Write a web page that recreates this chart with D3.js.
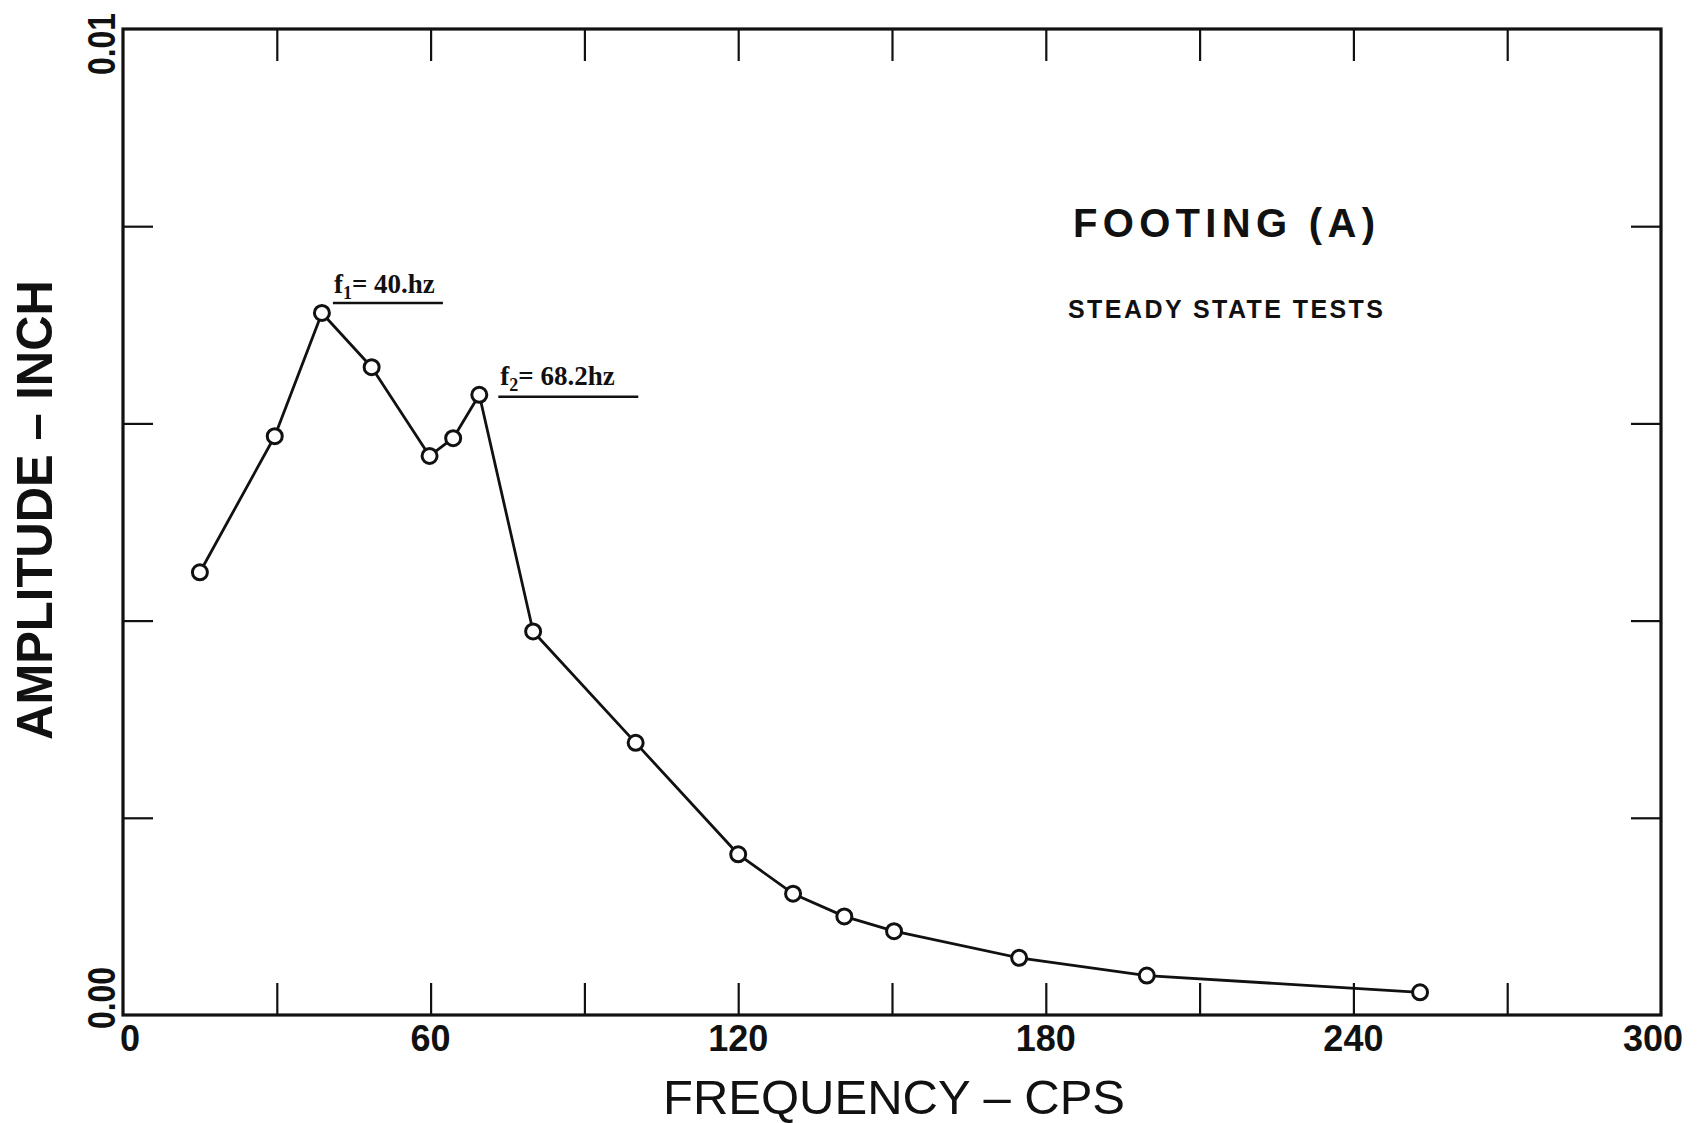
<!DOCTYPE html>
<html lang="en">
<head>
<meta charset="utf-8">
<title>Footing (A)</title>
<script src="https://cdn.jsdelivr.net/npm/d3@7"></script>
<style>
  body { margin: 0; background: #fff; }
  svg { display: block; }
  text { fill: #111; }
</style>
</head>
<body>
<script>

// data
var freq = [15, 29.6, 38.8, 48.5, 59.8, 64.4, 69.5, 80, 100, 120, 130.7, 140.7, 150.4, 174.8, 199.7, 253];
var amp = [0.00449, 0.00587, 0.00712, 0.00657, 0.00567, 0.00585, 0.00629, 0.00389, 0.00276, 0.00163,
           0.00123, 0.00100, 0.00085, 0.00058, 0.00040, 0.00023];
var xTicks = [30, 60, 90, 120, 150, 180, 210, 240, 270];
var xLabels = [0, 60, 120, 180, 240, 300];
var yTicks = [0.002, 0.004, 0.006, 0.008];
var yLabels = ["0.00", "0.01"];
var peakNames = ["1", "2"];
var peakHz = ["40.", "68.2"];
var peakIndex = [2, 6];

var w = 1700, h = 1123;
var pL = 123, pR = 1661, pT = 29, pB = 1015;

var svg = d3.select("body").append("svg")
    .attr("width", w)
    .attr("height", h);

var x = d3.scaleLinear().domain([0, 300]).range([pL, pR]);
var y = d3.scaleLinear().domain([0, 0.01]).range([pB, pT]);

// frame
svg.append("rect")
    .attr("x", pL).attr("y", pT)
    .attr("width", pR - pL).attr("height", pB - pT)
    .attr("fill", "none").attr("stroke", "#111").attr("stroke-width", 3.2);

// inward ticks on all four sides
var tickStyle = function(g) {
  g.select(".domain").remove();
  g.selectAll(".tick line").attr("stroke", "#111").attr("stroke-width", 2.2);
};

svg.append("g")
    .attr("transform", "translate(0," + pB + ")")
    .call(d3.axisBottom(x).tickValues(xTicks).tickSize(-32).tickFormat(""))
    .call(tickStyle);
svg.append("g")
    .attr("transform", "translate(0," + pT + ")")
    .call(d3.axisTop(x).tickValues(xTicks).tickSize(-32).tickFormat(""))
    .call(tickStyle);
svg.append("g")
    .attr("transform", "translate(" + pL + ",0)")
    .call(d3.axisLeft(y).tickValues(yTicks).tickSize(-30).tickFormat(""))
    .call(tickStyle);
svg.append("g")
    .attr("transform", "translate(" + pR + ",0)")
    .call(d3.axisRight(y).tickValues(yTicks).tickSize(-30).tickFormat(""))
    .call(tickStyle);

// x tick labels
svg.selectAll(".xlab")
    .data(xLabels)
  .enter().append("text")
    .attr("class", "xlab")
    .attr("x", function(d) { return x(d) + (d === 0 ? 7 : d === 300 ? -8 : 0); })
    .attr("y", pB + 36)
    .attr("text-anchor", "middle")
    .style("font-family", "'Liberation Sans', Arial, sans-serif")
    .style("font-size", "36px")
    .style("font-weight", "bold")
    .text(function(d) { return d; });

// y end labels, rotated
svg.selectAll(".ylab")
    .data(yLabels)
  .enter().append("text")
    .attr("class", "ylab")
    .attr("transform", function(d, i) {
      var cy = i === 0 ? y(0) - 17 : y(0.01) + 15;
      return "translate(115," + cy + ") rotate(-90)";
    })
    .attr("text-anchor", "middle")
    .attr("textLength", 62)
    .attr("lengthAdjust", "spacingAndGlyphs")
    .style("font-family", "'Liberation Sans', Arial, sans-serif")
    .style("font-size", "39px")
    .style("font-weight", "bold")
    .text(function(d) { return d; });

// axis titles
svg.append("text")
    .attr("x", 663).attr("y", 1114)
    .attr("textLength", 462)
    .attr("lengthAdjust", "spacingAndGlyphs")
    .style("font-family", "'Liberation Sans', Arial, sans-serif")
    .style("font-size", "49px")
    .text("FREQUENCY \u2013 CPS");

svg.append("text")
    .attr("transform", "translate(52,510) rotate(-90)")
    .attr("text-anchor", "middle")
    .attr("textLength", 460)
    .attr("lengthAdjust", "spacingAndGlyphs")
    .style("font-family", "'Liberation Sans', Arial, sans-serif")
    .style("font-size", "50px")
    .style("font-weight", "bold")
    .text("AMPLITUDE \u2013 INCH");

// title block
svg.append("text")
    .attr("x", 1073).attr("y", 237)
    .attr("textLength", 302)
    .attr("lengthAdjust", "spacing")
    .style("font-family", "'Liberation Sans', Arial, sans-serif")
    .style("font-size", "40px")
    .style("font-weight", "bold")
    .text("FOOTING (A)");

svg.append("text")
    .attr("x", 1068).attr("y", 318)
    .attr("textLength", 315)
    .attr("lengthAdjust", "spacing")
    .style("font-family", "'Liberation Sans', Arial, sans-serif")
    .style("font-size", "25px")
    .style("font-weight", "bold")
    .text("STEADY STATE TESTS");

// curve
var pts = freq.map(function(f, i) { return [f, amp[i]]; });

svg.append("path")
    .datum(pts)
    .attr("fill", "none")
    .attr("stroke", "#111")
    .attr("stroke-width", 2.8)
    .attr("stroke-linejoin", "round")
    .attr("d", d3.line()
      .x(function(d) { return x(d[0]); })
      .y(function(d) { return y(d[1]); }));

svg.selectAll(".pt")
    .data(pts)
  .enter().append("circle")
    .attr("class", "pt")
    .attr("cx", function(d) { return x(d[0]); })
    .attr("cy", function(d) { return y(d[1]); })
    .attr("r", 7.5)
    .attr("fill", "#fff")
    .attr("stroke", "#111")
    .attr("stroke-width", 3);

// peak annotations
var ann = svg.selectAll(".ann")
    .data(peakIndex)
  .enter().append("g")
    .attr("class", "ann")
    .attr("transform", function(d) {
      return "translate(" + x(freq[d]) + "," + y(amp[d]) + ")";
    });

ann.append("line")
    .attr("x1", function(d, i) { return i === 0 ? 11 : 19; })
    .attr("x2", function(d, i) { return i === 0 ? 121 : 159; })
    .attr("y1", function(d, i) { return i === 0 ? -10 : 2; })
    .attr("y2", function(d, i) { return i === 0 ? -10 : 2; })
    .attr("stroke", "#111")
    .attr("stroke-width", 2.6);

var lab = ann.append("text")
    .attr("x", function(d, i) { return i === 0 ? 12 : 21; })
    .attr("y", function(d, i) { return i === 0 ? -20 : -10; })
    .style("font-family", "'Liberation Serif', 'DejaVu Serif', serif")
    .style("font-size", "27px")
    .style("font-weight", "bold");

lab.append("tspan").text("f");
lab.append("tspan")
    .attr("dy", 6)
    .style("font-size", "18px")
    .text(function(d, i) { return peakNames[i]; });
lab.append("tspan")
    .attr("dy", -6)
    .text(function(d, i) { return "= " + peakHz[i] + "hz"; });

</script>
</body>
</html>
